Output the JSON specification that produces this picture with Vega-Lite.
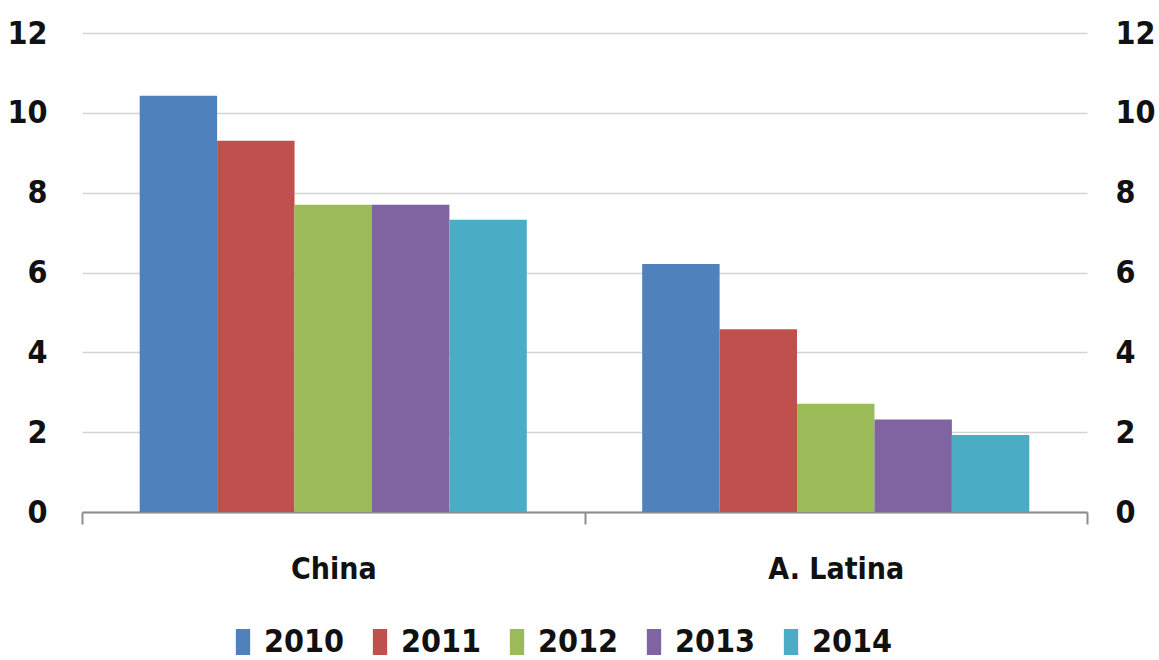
{
  "$schema": "https://vega.github.io/schema/vega-lite/v6.json",
  "width": 1005,
  "height": 479,
  "autosize": {"type": "none"},
  "padding": {"left": 82, "top": 33, "right": 72, "bottom": 148},
  "background": "white",
  "config": {
    "view": {"stroke": null},
    "font": "DejaVu Sans Condensed, sans-serif"
  },
  "data": {
    "values": [
      {"region": "China", "year": "2010", "value": 10.43},
      {"region": "China", "year": "2011", "value": 9.3},
      {"region": "China", "year": "2012", "value": 7.7},
      {"region": "China", "year": "2013", "value": 7.7},
      {"region": "China", "year": "2014", "value": 7.32},
      {"region": "A. Latina", "year": "2010", "value": 6.21},
      {"region": "A. Latina", "year": "2011", "value": 4.58},
      {"region": "A. Latina", "year": "2012", "value": 2.71},
      {"region": "A. Latina", "year": "2013", "value": 2.32},
      {"region": "A. Latina", "year": "2014", "value": 1.93}
    ]
  },
  "encoding": {
    "x": {
      "field": "region",
      "type": "nominal",
      "sort": ["China", "A. Latina"],
      "scale": {"paddingInner": 0, "paddingOuter": 0},
      "axis": {
        "title": null,
        "labelAngle": 0,
        "labelFontSize": 30,
        "labelFontWeight": "bold",
        "labelColor": "#111111",
        "labelPadding": 30,
        "tickBand": "extent",
        "tickSize": 12,
        "tickColor": "#8c8c8c",
        "tickWidth": 2,
        "domainColor": "#8c8c8c",
        "domainWidth": 2,
        "grid": false,
        "labelBaseline": "top"
      }
    },
    "xOffset": {
      "field": "year",
      "type": "nominal",
      "scale": {"paddingInner": 0, "paddingOuter": 0.745}
    },
    "y": {
      "field": "value",
      "type": "quantitative",
      "scale": {"domain": [0, 12], "nice": false}
    }
  },
  "layer": [
    {
      "mark": {"type": "bar"},
      "encoding": {
        "y": {
          "field": "value",
          "type": "quantitative",
          "scale": {"domain": [0, 12], "nice": false},
          "axis": {
            "title": null,
            "orient": "left",
            "values": [0, 2, 4, 6, 8, 10, 12],
            "domain": false,
            "ticks": false,
            "labelFontSize": 32,
            "labelFontWeight": "bold",
            "labelColor": "#111111",
            "labelPadding": 35,
            "grid": true,
            "gridColor": "#d4d4d4",
            "gridWidth": 1.5
          }
        },
        "color": {
          "field": "year",
          "type": "nominal",
          "scale": {
            "domain": ["2010", "2011", "2012", "2013", "2014"],
            "range": ["#4F81BD", "#C0504D", "#9BBB59", "#8064A2", "#4BACC6"]
          },
          "legend": {
            "title": null,
            "orient": "none",
            "direction": "horizontal",
            "legendX": 145,
            "legendY": 593,
            "symbolType": "M-0.55,-1H0.55V1H-0.55Z",
            "symbolSize": 676,
            "symbolStrokeWidth": 0,
            "labelFontSize": 32,
            "labelFontWeight": "bold",
            "labelColor": "#111111",
            "labelOffset": 5,
            "columnPadding": 19,
            "padding": 0
          }
        }
      }
    },
    {
      "mark": {"type": "bar", "opacity": 0},
      "encoding": {
        "y": {
          "field": "value",
          "type": "quantitative",
          "scale": {"domain": [0, 12], "nice": false},
          "axis": {
            "title": null,
            "orient": "right",
            "values": [0, 2, 4, 6, 8, 10, 12],
            "domain": false,
            "ticks": false,
            "labelFontSize": 32,
            "labelFontWeight": "bold",
            "labelColor": "#111111",
            "labelPadding": 28,
            "grid": false
          }
        }
      }
    }
  ],
  "resolve": {"axis": {"y": "independent"}}
}
